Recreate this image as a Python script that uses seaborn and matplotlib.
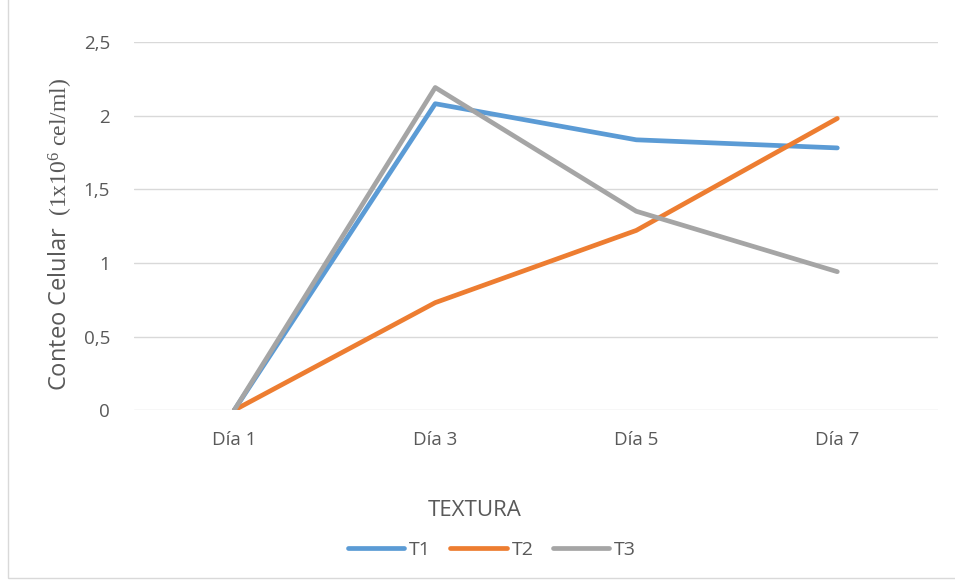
import matplotlib
matplotlib.use("Agg")
import matplotlib.pyplot as plt
from matplotlib.patches import Rectangle
import pandas as pd
import seaborn as sns

# data
dias = ["Día 1", "Día 3", "Día 5", "Día 7"]
t1 = [0, 2.08, 1.835, 1.78]
t2 = [0, 0.73, 1.22, 1.98]
t3 = [0, 2.19, 1.35, 0.94]
series = ["T1", "T2", "T3"]
colores = ["#5B9BD5", "#ED7D31", "#A5A5A5"]
yticks = [0, 0.5, 1, 1.5, 2, 2.5]
ytick_labels = ["0", "0,5", "1", "1,5", "2", "2,5"]

rows = []
for name, vals in zip(series, [t1, t2, t3]):
    for d, v in zip(dias, vals):
        rows.append({"dia": d, "conteo": v, "serie": name})
df = pd.DataFrame(rows)

sns.set_style("white")
plt.rcParams["font.family"] = ["Open Sans", "DejaVu Sans"]
plt.rcParams["mathtext.fontset"] = "custom"
plt.rcParams["mathtext.rm"] = "Liberation Serif"
plt.rcParams["mathtext.it"] = "Liberation Serif:italic"

txt = "#595959"

fig = plt.figure(figsize=(9.55, 5.81), dpi=100)
ax = fig.add_axes([0.140, 0.294, 0.842, 0.634])

sns.lineplot(data=df, x="dia", y="conteo", hue="serie", hue_order=series,
             palette=colores, linewidth=3.4, sort=False, ax=ax, legend=False)

ax.set_xlim(-0.5, 3.5)
ax.set_ylim(0, 2.5)
ax.set_yticks(yticks)
ax.set_yticklabels(ytick_labels)
ax.yaxis.grid(True, color="#D9D9D9", linewidth=1)
ax.set_axisbelow(True)
for s in ax.spines.values():
    s.set_visible(False)
ax.tick_params(axis="both", length=0, labelsize=13.5, colors=txt)
ax.tick_params(axis="x", pad=15)
ax.tick_params(axis="y", pad=17)

ax.set_xlabel("TEXTURA", fontsize=16, color=txt)
ax.xaxis.set_label_coords(0.424, -0.245)
ax.set_ylabel(r"Conteo Celular  $\mathrm{(1x10^6\ cel/ml)}$", fontsize=17,
              color=txt)
ax.yaxis.set_label_coords(-0.073, 0.476)

handles = [plt.Line2D([], [], color=c, linewidth=3.4, solid_capstyle="round")
           for c in colores]
fig.legend(handles, series, loc="center", bbox_to_anchor=(0.515, 0.053),
           ncol=3, frameon=False, fontsize=14, handlelength=2.9,
           handletextpad=0.25, columnspacing=1.0, labelcolor=txt)

# chart border (partially cropped in the reference)
fig.add_artist(Rectangle((8 / 955, 3 / 581), 1.2, 1.2, transform=fig.transFigure,
                         fill=False, edgecolor="#D9D9D9", linewidth=1))

fig.savefig("out.png", dpi=100)
